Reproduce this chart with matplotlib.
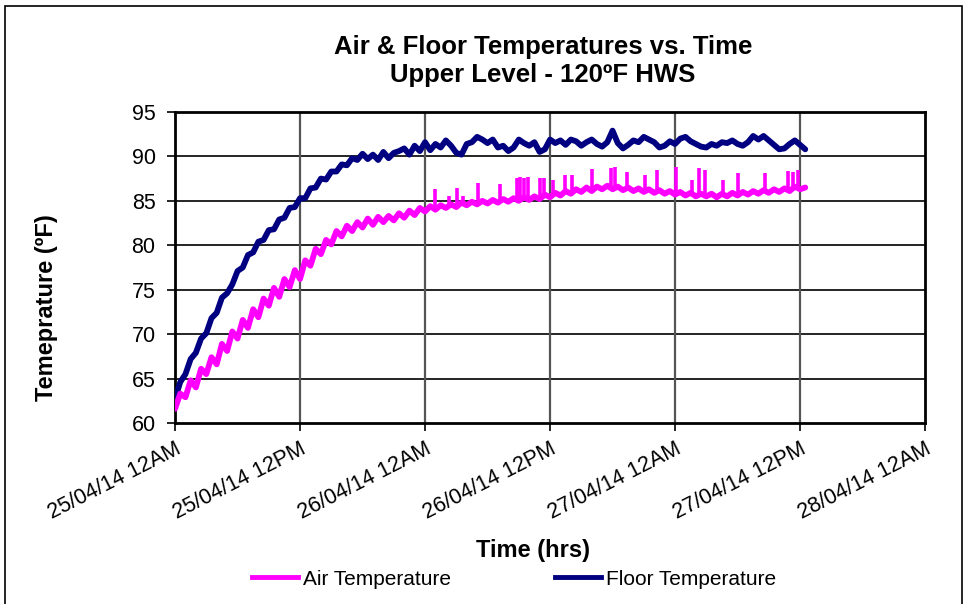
import matplotlib
matplotlib.use("Agg")
import matplotlib.pyplot as plt
from matplotlib.lines import Line2D
from matplotlib.patches import Rectangle
import numpy as np

plt.rcParams['font.family'] = ['Liberation Sans', 'DejaVu Sans']

# hours since 25/04/14 12AM, one reading every half hour
hours = np.arange(0, 61, 0.5)

floor_temp = [
    62.7, 64.6, 65.5, 67.2, 67.9, 69.5, 70.1, 71.8, 72.4, 74.1,
    74.6, 75.6, 77.1, 77.5, 78.9, 79.2, 80.4, 80.6, 81.7, 81.8,
    82.9, 83.1, 84.2, 84.3, 85.3, 85.3, 86.4, 86.5, 87.5, 87.4,
    88.3, 88.3, 89.1, 89.0, 89.8, 89.6, 90.3, 89.7, 90.2, 89.6,
    90.5, 89.8, 90.4, 90.6, 90.9, 90.2, 91.2, 90.6, 91.6, 90.7,
    91.4, 91.0, 91.8, 91.2, 90.4, 90.2, 91.4, 91.6, 92.2, 91.9,
    91.5, 91.9, 91.0, 91.2, 90.6, 91.0, 91.9, 91.5, 91.2, 91.6,
    90.5, 90.8, 91.9, 91.5, 91.8, 91.3, 91.9, 91.7, 91.2, 91.6,
    91.9, 91.4, 91.1, 91.6, 92.9, 91.5, 90.9, 91.3, 91.8, 91.6,
    92.2, 91.9, 91.6, 91.0, 91.2, 91.7, 91.4, 92.0, 92.2, 91.7,
    91.4, 91.1, 91.0, 91.4, 91.2, 91.6, 91.5, 91.8, 91.4, 91.2,
    91.6, 92.3, 91.9, 92.3, 91.8, 91.3, 90.8, 90.9, 91.4, 91.8,
    91.3, 90.8,
]

air_temp = [
    61.6, 63.3, 62.9, 64.8, 64.0, 66.1, 65.5, 67.4, 66.6, 68.9,
    68.1, 70.3, 69.5, 71.6, 70.7, 72.8, 71.9, 74.0, 73.2, 75.2,
    74.2, 76.2, 75.3, 77.2, 76.2, 78.3, 77.7, 79.6, 79.0, 80.6,
    80.1, 81.6, 81.0, 82.2, 81.6, 82.6, 82.0, 83.0, 82.3, 83.2,
    82.6, 83.3, 82.8, 83.6, 83.1, 83.9, 83.4, 84.2, 83.8, 84.4,
    84.0, 84.5, 84.2, 84.6, 84.3, 84.8, 84.5, 84.9, 84.6, 85.0,
    84.7, 85.1, 84.8, 85.2, 84.9, 85.3, 85.0, 85.4, 85.1, 85.5,
    85.2, 85.7, 85.4, 85.9, 85.6, 86.1, 85.8, 86.3, 86.0, 86.5,
    86.1, 86.6, 86.3, 86.7, 86.3, 86.6, 86.2, 86.5, 86.1, 86.4,
    86.0, 86.3, 85.9, 86.2, 85.8, 86.1, 85.7, 86.0, 85.6, 85.9,
    85.5, 85.8, 85.5, 85.8, 85.4, 85.8, 85.5, 85.9, 85.6, 86.0,
    85.7, 86.1, 85.8, 86.2, 85.9, 86.3, 86.0, 86.4, 86.1, 86.6,
    86.3, 86.5,
]

# short upward spikes in the air reading
spike_hours = [25.0, 26.3, 27.1, 27.6, 29.1, 31.2, 32.8, 33.1, 33.5, 33.9,
               35.0, 35.4, 36.3, 37.4, 38.1, 40.0, 41.9, 42.2, 43.4, 45.1,
               46.3, 48.1, 49.6, 50.3, 50.9, 52.6, 54.0, 56.6, 58.8, 59.3, 59.8]
spike_tops = [86.3, 85.6, 86.4, 85.5, 87.0, 86.9, 87.6, 87.7, 87.6, 87.7,
              87.6, 87.6, 87.3, 87.9, 87.9, 88.6, 88.7, 88.8, 88.3, 87.9,
              88.5, 88.8, 87.3, 88.7, 88.5, 87.3, 88.1, 88.1, 88.4, 88.3, 88.5]

tick_hours = [0, 12, 24, 36, 48, 60, 72]
tick_labels = ["25/04/14 12AM", "25/04/14 12PM", "26/04/14 12AM", "26/04/14 12PM",
               "27/04/14 12AM", "27/04/14 12PM", "28/04/14 12AM"]

air_color = "#FF00FF"
floor_color = "#000080"

fig = plt.figure(figsize=(9.66, 6.04), dpi=100)
ax = fig.add_axes([0.1812, 0.2997, 0.7764, 0.5149])

ax.plot(hours, floor_temp, color=floor_color, lw=4.2, zorder=3,
        solid_joinstyle="round", solid_capstyle="round")
ax.plot(hours, air_temp, color=air_color, lw=4.2, zorder=4,
        solid_joinstyle="round", solid_capstyle="round")
spike_base = np.interp(spike_hours, hours, air_temp)
ax.vlines(spike_hours, spike_base, spike_tops, color=air_color, lw=2.6, zorder=4)

ax.set_xlim(0, 72)
ax.set_ylim(60, 95)
ax.set_xticks(tick_hours)
ax.set_xticklabels(tick_labels, rotation=27, ha="right", rotation_mode="anchor")
ax.set_yticks(range(60, 96, 5))

for y in range(65, 95, 5):
    ax.axhline(y, color="black", lw=1.2, zorder=1)
for x in tick_hours[1:-1]:
    ax.axvline(x, color="#555555", lw=1.6, zorder=1)

for sp in ax.spines.values():
    sp.set_linewidth(2)
ax.tick_params(direction="out", length=6, width=1.2, labelsize=15.5)
ax.tick_params(axis="y", pad=8)
ax.tick_params(axis="x", pad=5, labelsize=15.5)

fig.text(47 / 966, 1 - 308 / 604, "Temeprature (ºF)", rotation=90, ha="center", va="center",
         fontsize=17, fontweight="bold")
fig.text(0.562, 0.922, "Air & Floor Temperatures vs. Time", ha="center", va="center",
         fontsize=18.5, fontweight="bold")
fig.text(0.562, 0.876, "Upper Level - 120ºF HWS", ha="center", va="center",
         fontsize=18.5, fontweight="bold")
fig.text(0.552, 0.089, "Time (hrs)", ha="center", va="center",
         fontsize=17, fontweight="bold")

handles = [Line2D([], [], color=air_color, lw=3.5),
           Line2D([], [], color=floor_color, lw=3.5)]
fig.legend(handles, ["Air Temperature", "Floor Temperature"], loc="center",
           bbox_to_anchor=(0.532, 0.041), ncol=2, frameon=False, fontsize=15,
           handlelength=2.2, handletextpad=0.25, columnspacing=5.0)

fig.patches.append(Rectangle((5 / 966, -0.02), 957 / 966, 1.01, transform=fig.transFigure,
                             fill=False, edgecolor="black", lw=1.2))

fig.savefig("out.png", dpi=100)
